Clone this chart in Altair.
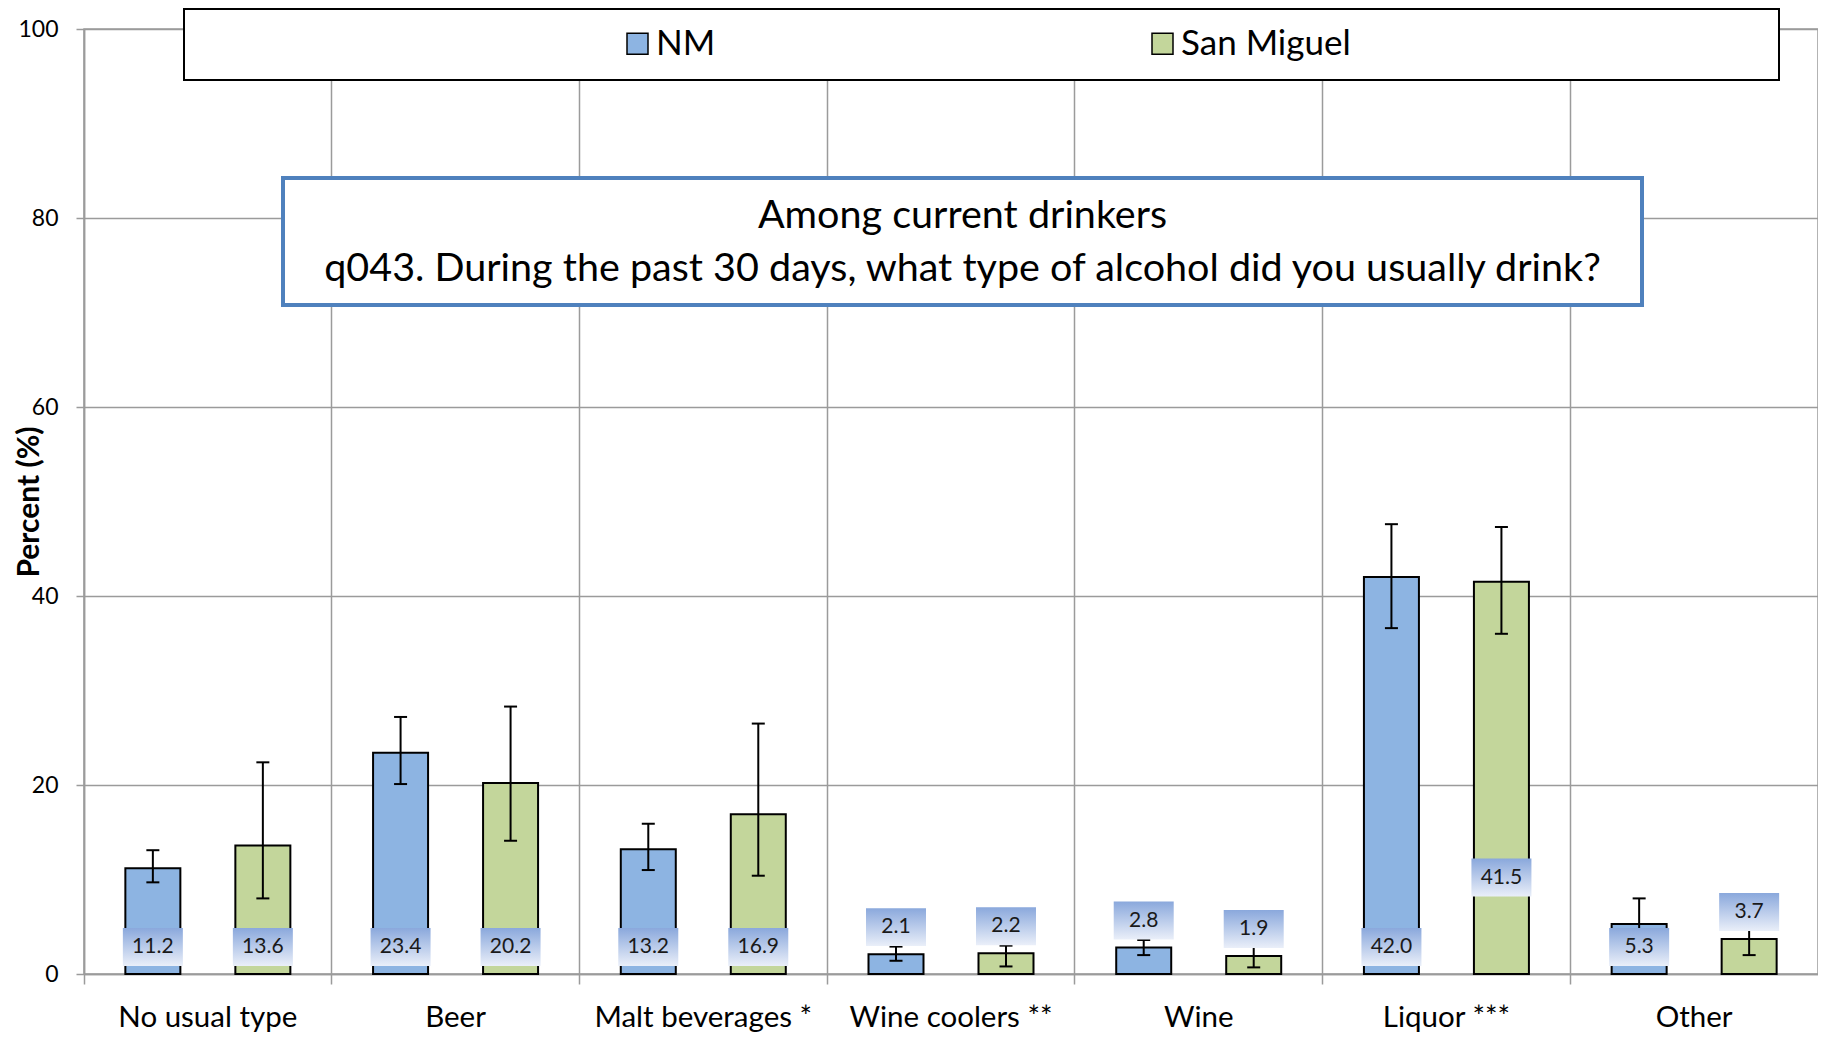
import altair as alt
import pandas as pd

categories = ["No usual type", "Beer", "Malt beverages *", "Wine coolers **", "Wine", "Liquor ***", "Other"]
series = ["NM", "San Miguel"]
nm_values = [11.2, 23.4, 13.2, 2.1, 2.8, 42.0, 5.3]
sm_values = [13.6, 20.2, 16.9, 2.2, 1.9, 41.5, 3.7]
nm_low = [9.7, 20.1, 11.0, 1.4, 2.0, 36.6, 2.6]
nm_high = [13.1, 27.2, 15.9, 2.9, 3.6, 47.6, 8.0]
sm_low = [8.0, 14.1, 10.4, 0.8, 0.7, 36.0, 2.0]
sm_high = [22.4, 28.3, 26.5, 3.0, 3.1, 47.3, 5.4]
nm_label_place = ["base", "base", "base", "above", "above", "base", "base"]
sm_label_place = ["base", "base", "base", "above", "above", "raised", "above"]

colors = ["#8db4e2", "#c3d69b"]
FONT = "Lato"

# label placement (Excel data-label style): inside base, above bar, or moved up
BASE_C = 2.86
HALF_BOX = 2.01


def label_center(v, place):
    if place == "base":
        return BASE_C
    if place == "above":
        return v + BASE_C
    return 10.2


rows = []
for s, vals, lo, hi, places in [
    ("NM", nm_values, nm_low, nm_high, nm_label_place),
    ("San Miguel", sm_values, sm_low, sm_high, sm_label_place),
]:
    for c, v, l, h, p in zip(categories, vals, lo, hi, places):
        lc = label_center(v, p)
        rows.append({
            "category": c, "series": s, "value": v, "lo": l, "hi": h,
            "label": f"{v:.1f}", "label_y": lc,
            "box_lo": lc - HALF_BOX, "box_hi": lc + HALF_BOX,
        })
df = pd.DataFrame(rows)

x_enc = alt.X(
    "category:N", sort=categories,
    scale=alt.Scale(paddingInner=0, paddingOuter=0),
    axis=alt.Axis(title=None, bandPosition=0, grid=True, ticks=True, tickSize=10,
                  labelFontSize=29.5, labelPadding=19, labelAngle=0, labelColor="black",
                  labelFont=FONT, labelLimit=1000),
)
xoff_enc = alt.XOffset("series:N", sort=series,
                       scale=alt.Scale(paddingInner=0.5, paddingOuter=0.376))

base = alt.Chart(df).encode(x=x_enc, xOffset=xoff_enc)

bars = base.mark_bar(stroke="black", strokeWidth=2).encode(
    y=alt.Y("value:Q", scale=alt.Scale(domain=[0, 100], nice=False),
            axis=alt.Axis(values=[0, 20, 40, 60, 80, 100], title="Percent (%)",
                          titleFontSize=30, titleFontWeight="bold", titleFont=FONT,
                          titleX=-55, titleY=472.5, titleBaseline="middle",
                          labelFontSize=23, labelPadding=18, tickSize=8, grid=True,
                          labelColor="black", labelFont=FONT)),
    color=alt.Color("series:N", scale=alt.Scale(domain=series, range=colors),
                    legend=alt.Legend(orient="none", legendX=536, legendY=-3,
                                      direction="horizontal", title=None,
                                      symbolType="square", symbolSize=441,
                                      symbolStrokeColor="black", symbolStrokeWidth=1.5,
                                      symbolOpacity=1, labelLimit=1000,
                                      labelFontSize=35, labelFont=FONT, labelColor="black",
                                      labelOffset=1, columnPadding=429, padding=0)),
)

err = base.mark_rule(color="black", strokeWidth=2).encode(y="lo:Q", y2="hi:Q")
cap_lo = base.mark_tick(color="black", thickness=2, size=13, opacity=1).encode(y="lo:Q")
cap_hi = base.mark_tick(color="black", thickness=2, size=13, opacity=1).encode(y="hi:Q")

grad = alt.Gradient(
    gradient="linear",
    stops=[alt.GradientStop(color="#8aa8dc", offset=0),
           alt.GradientStop(color="#eaeff9", offset=1)],
    x1=0, x2=0, y1=0, y2=1,
)
label_box = base.mark_bar(width=60, fill=grad, strokeWidth=0, opacity=1).encode(
    y="box_lo:Q", y2="box_hi:Q")
label_text = base.mark_text(font=FONT, fontSize=21, color="#1a1a1a", baseline="middle").encode(
    y="label_y:Q", text="label:N")

one = pd.DataFrame({"k": [0]})
title_box = alt.Chart(one).mark_rect(fill="white", stroke="#4f81bd", strokeWidth=4).encode(
    x=alt.value(199), x2=alt.value(1558), y=alt.value(149), y2=alt.value(276))
title1 = alt.Chart(one).mark_text(font=FONT, fontSize=39.5, color="black", baseline="middle").encode(
    x=alt.value(878.5), y=alt.value(187), text=alt.value("Among current drinkers"))
title2 = alt.Chart(one).mark_text(font=FONT, fontSize=39.5, color="black", baseline="middle").encode(
    x=alt.value(878.5), y=alt.value(240),
    text=alt.value("q043. During the past 30 days, what type of alcohol did you usually drink?"))
legend_box = alt.Chart(one).mark_rect(fill="white", stroke="black", strokeWidth=2).encode(
    x=alt.value(100), x2=alt.value(1695), y=alt.value(-20), y2=alt.value(51))

chart = alt.layer(
    bars, err, cap_lo, cap_hi, label_box, label_text, title_box, title1, title2, legend_box
).properties(
    width=1734, height=945,
    autosize=alt.AutoSizeParams(type="none"),
    padding={"left": 76, "top": 21, "right": 0, "bottom": 60},
).configure_view(
    stroke="#9b9b9b", strokeWidth=1.5
).configure_axis(
    gridColor="#9b9b9b", gridWidth=1.5, domainColor="#9b9b9b", tickColor="#9b9b9b",
    domainWidth=1.5, tickWidth=1.5,
)

chart.save("out.html", embed_options={"renderer": "svg", "actions": False})
